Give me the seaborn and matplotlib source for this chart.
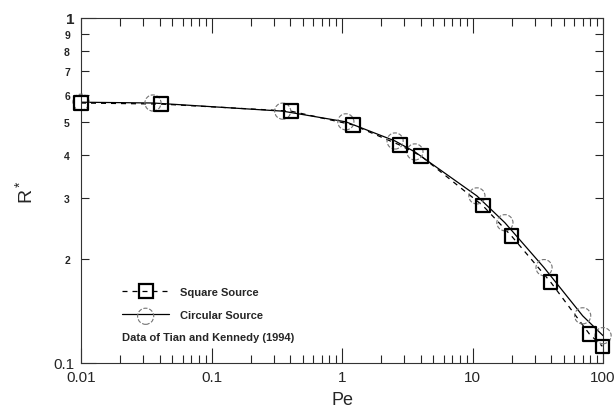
import numpy as np
import pandas as pd
import matplotlib
matplotlib.use("Agg")
import matplotlib.pyplot as plt
import seaborn as sns
from matplotlib.ticker import FixedLocator, FixedFormatter, LogLocator, NullFormatter
from matplotlib.lines import Line2D
from matplotlib.legend_handler import HandlerTuple

# --- DATA ---
square_pe = [0.01, 0.041, 0.406, 1.21, 2.78, 4.03, 11.97, 19.96, 39.7, 78.5, 98.8]
square_r = [0.567, 0.563, 0.537, 0.49, 0.428, 0.398, 0.286, 0.233, 0.1715, 0.1214, 0.1118]
circle_pe = [0.01, 0.0356, 0.351, 1.07, 2.55, 3.62, 10.8, 17.7, 35.3, 69.8, 100]
circle_r = [0.57, 0.567, 0.537, 0.50, 0.44, 0.409, 0.305, 0.255, 0.189, 0.137, 0.120]

y_major = [0.1, 1]
y_major_labels = ["0.1", "1"]
y_minor = [0.2, 0.3, 0.4, 0.5, 0.6, 0.7, 0.8, 0.9]
y_minor_labels = ["2", "3", "4", "5", "6", "7", "8", "9"]
x_major = [0.01, 0.1, 1, 10, 100]
x_major_labels = ["0.01", "0.1", "1", "10", "100"]

sq = pd.DataFrame({"Pe": square_pe, "R": square_r})
ci = pd.DataFrame({"Pe": circle_pe, "R": circle_r})

sns.set_style("ticks")
plt.rcParams['font.family'] = ['Liberation Sans', 'DejaVu Sans']
plt.rcParams['axes.linewidth'] = 0.8

fig = plt.figure(figsize=(6.16, 4.10), dpi=100)
ax = fig.add_axes([0.1315, 0.1122, 0.979 - 0.1315, 0.9537 - 0.1122])

# lines
sns.lineplot(data=ci, x="Pe", y="R", ax=ax, color="black", linewidth=0.9,
             linestyle="-", sort=False, zorder=2)
sns.lineplot(data=sq, x="Pe", y="R", ax=ax, color="black", linewidth=0.9,
             linestyle=(0, (4, 4)), sort=False, zorder=2)

# markers (dashed grey circles, heavy black squares)
n_before = len(ax.collections)
sns.scatterplot(data=ci, x="Pe", y="R", ax=ax, marker="o", s=135,
                facecolors="none", edgecolor="0.45", linewidth=0.8,
                linestyle="--", zorder=3, clip_on=False)
circ_points = ax.collections[n_before]
sns.scatterplot(data=sq, x="Pe", y="R", ax=ax, marker="s", s=95,
                facecolors="none", edgecolor="black", linewidth=1.6, zorder=4,
                clip_on=False)

ax.set_xscale("log")
ax.set_yscale("log")
ax.set_xlim(0.01, 100)
ax.set_ylim(0.1, 1)

ax.xaxis.set_major_locator(FixedLocator(x_major))
ax.xaxis.set_major_formatter(FixedFormatter(x_major_labels))
ax.xaxis.set_minor_locator(LogLocator(base=10, subs=np.arange(2, 10)))
ax.xaxis.set_minor_formatter(NullFormatter())

ax.yaxis.set_major_locator(FixedLocator(y_major))
ax.yaxis.set_major_formatter(FixedFormatter(y_major_labels))
ax.yaxis.set_minor_locator(FixedLocator(y_minor))
ax.yaxis.set_minor_formatter(FixedFormatter(y_minor_labels))

ax.tick_params(which="both", direction="in", top=True, right=True, width=0.8)
ax.tick_params(which="major", length=11, labelsize=11, pad=5)
ax.tick_params(which="minor", length=6)
ax.tick_params(axis="y", which="minor", labelsize=7.5, pad=8)
for t in ax.yaxis.get_minorticklabels():
    t.set_fontweight("bold")
ax.yaxis.get_majorticklabels()[1].set_fontweight("bold")

for s in ax.spines.values():
    s.set_color("0.2")

ax.set_xlabel("Pe", fontsize=13, labelpad=5)
ax.set_ylabel(r"$\mathregular{R^*}$", fontsize=14, labelpad=12)

# legend
h_sq = Line2D([], [], color="black", lw=0.9, linestyle=(0, (4, 4)), marker="s",
              markersize=9.5, mfc="none", mec="black", mew=1.6)
h_ci = (Line2D([], [], color="black", lw=0.9, linestyle="-"), circ_points)
leg = ax.legend([h_sq, h_ci], ["Square Source", "Circular Source"],
                handler_map={tuple: HandlerTuple(ndivide=1, pad=0)},
                loc="lower left", bbox_to_anchor=(0.06, 0.095), frameon=False,
                prop={"size": 8, "weight": "bold"}, handlelength=4.2,
                handletextpad=1.0, labelspacing=1.2, scatterpoints=1,
                scatteryoffsets=[0.25])

ax.text(0.078, 0.075, "Data of Tian and Kennedy (1994)", transform=ax.transAxes,
        fontsize=8, fontweight="bold", va="center", ha="left")

fig.savefig("out.png", dpi=100)
